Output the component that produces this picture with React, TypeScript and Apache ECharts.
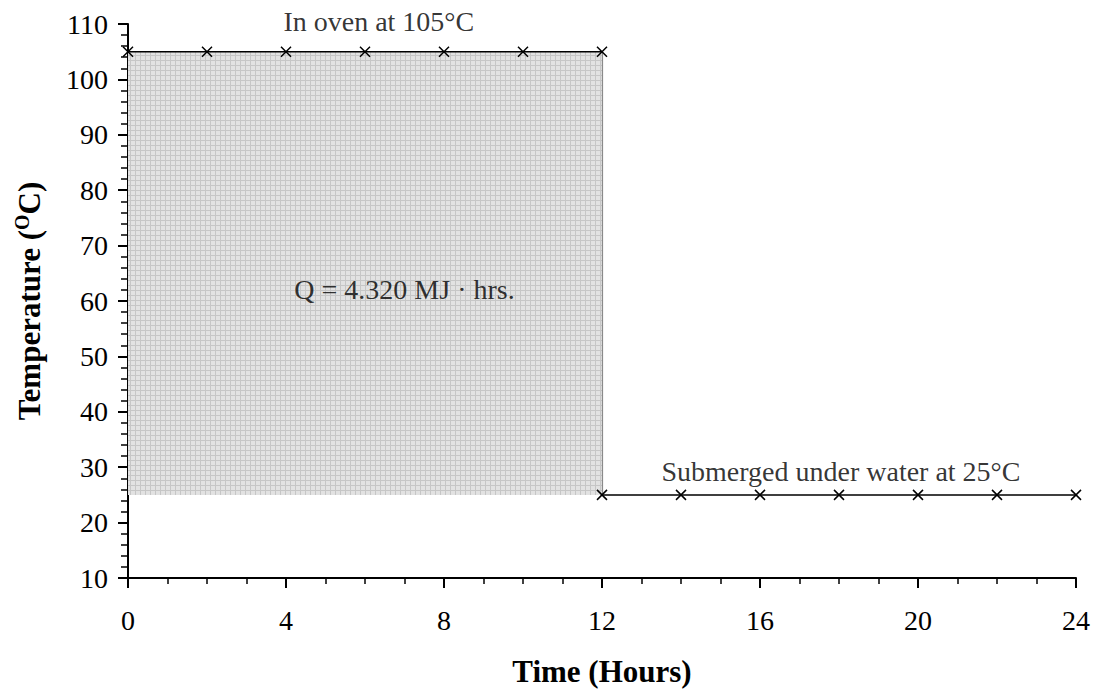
import React, { useEffect, useRef } from "react";
import * as echarts from "echarts";

// Time (hours) and temperature (°C) readings for the two stages
const ovenHours = [0, 2, 4, 6, 8, 10, 12];
const ovenTemps = [105, 105, 105, 105, 105, 105, 105];
const waterHours = [12, 14, 16, 18, 20, 22, 24];
const waterTemps = [25, 25, 25, 25, 25, 25, 25];

// Heat-exposure region: from 0 to 12 h, between 25 °C and 105 °C
const shadeFrom = [0, 25];
const shadeTo = [12, 105];

// Annotations placed in data coordinates
const noteText = ["In oven at 105°C", "Q = 4.320 MJ · hrs.", "Submerged under water at 25°C"];
const noteX = [6.35, 7.0, 18.05];
const noteY = [110.5, 62, 29.2];

const FONT = "Liberation Serif";
const CROSS = "path://M0,0L10,10M10,0L0,10";

function makeGridPattern(): HTMLCanvasElement {
  const c = document.createElement("canvas");
  c.width = 5;
  c.height = 5;
  const ctx = c.getContext("2d")!;
  ctx.fillStyle = "#e2e2e2";
  ctx.fillRect(0, 0, 5, 5);
  ctx.fillStyle = "#c6c6c6";
  ctx.fillRect(0, 0, 5, 1);
  ctx.fillRect(0, 0, 1, 5);
  return c;
}

export default function App() {
  const ref = useRef<HTMLDivElement>(null);

  useEffect(() => {
    if (!ref.current) return;
    const chart = echarts.init(ref.current, undefined, { renderer: "svg" });
    const pattern = makeGridPattern();

    const markerStyle = {
      color: "none",
      borderColor: "#000",
      borderWidth: 1.5,
    };

    chart.setOption({
      animation: false,
      backgroundColor: "#fff",
      textStyle: { fontFamily: FONT, color: "#000" },
      grid: { left: 128, right: 25, top: 24, bottom: 115, containLabel: false },
      xAxis: {
        type: "value",
        min: 0,
        max: 24,
        interval: 4,
        name: "Time (Hours)",
        nameLocation: "middle",
        nameGap: 78,
        nameTextStyle: { fontFamily: FONT, fontSize: 31, fontWeight: "bold", color: "#000" },
        axisLine: { show: true, onZero: false, lineStyle: { color: "#000", width: 2 } },
        axisTick: { show: true, inside: false, length: 10, lineStyle: { color: "#000", width: 2 } },
        minorTick: { show: true, splitNumber: 4, length: 6, lineStyle: { color: "#000", width: 1.5 } },
        axisLabel: { fontFamily: FONT, fontSize: 28, color: "#000", margin: 28 },
        splitLine: { show: false },
      },
      yAxis: {
        type: "value",
        min: 10,
        max: 110,
        interval: 10,
        name: "{a|Temperature (}{s|O}{a|C)}",
        nameLocation: "middle",
        nameRotate: 90,
        nameGap: 83,
        nameTextStyle: {
          fontFamily: FONT,
          fontSize: 31,
          fontWeight: "bold",
          color: "#000",
          rich: {
            a: { fontFamily: FONT, fontSize: 31, fontWeight: "bold", color: "#000", verticalAlign: "bottom" },
            s: {
              fontFamily: FONT,
              fontSize: 20,
              fontWeight: "bold",
              color: "#000",
              verticalAlign: "top",
              padding: [0, 0, 13, 0],
            },
          },
        },
        axisLine: { show: true, onZero: false, lineStyle: { color: "#000", width: 2 } },
        axisTick: { show: true, inside: false, length: 10, lineStyle: { color: "#000", width: 2 } },
        minorTick: { show: true, splitNumber: 5, length: 7, lineStyle: { color: "#000", width: 1.5 } },
        axisLabel: { fontFamily: FONT, fontSize: 28, color: "#000", margin: 20 },
        splitLine: { show: false },
      },
      series: [
        {
          name: "oven",
          type: "line",
          data: ovenHours.map((h, i) => [h, ovenTemps[i]]),
          symbol: CROSS,
          symbolSize: 10,
          showAllSymbol: true,
          lineStyle: { color: "#000", width: 1.5 },
          itemStyle: markerStyle,
          z: 5,
          markArea: {
            silent: true,
            itemStyle: { color: { image: pattern, repeat: "repeat" } as any },
            data: [[{ coord: shadeFrom }, { coord: shadeTo }]],
          },
          markLine: {
            silent: true,
            symbol: ["none", "none"],
            label: { show: false },
            lineStyle: { color: "#8a8a8a", type: "solid", width: 1.2 },
            data: [[{ coord: [shadeTo[0], shadeFrom[1]] }, { coord: [shadeTo[0], shadeTo[1]] }]],
          },
        },
        {
          name: "water",
          type: "line",
          data: waterHours.map((h, i) => [h, waterTemps[i]]),
          symbol: CROSS,
          symbolSize: 10,
          showAllSymbol: true,
          lineStyle: { color: "#000", width: 1.5 },
          itemStyle: markerStyle,
          z: 5,
        },
        {
          name: "notes",
          type: "scatter",
          symbolSize: 0,
          silent: true,
          clip: false,
          z: 6,
          data: noteText.map((t, i) => ({ value: [noteX[i], noteY[i]], name: t })),
          label: {
            show: true,
            position: "inside",
            formatter: (p: any) => p.name,
            fontFamily: FONT,
            fontSize: 28,
            color: "#000",
          },
        },
      ],
    });

    return () => chart.dispose();
  }, []);

  return (
    <div
      ref={ref}
      style={{ position: "fixed", left: 0, top: 0, width: 1101, height: 693, background: "#fff" }}
    />
  );
}
